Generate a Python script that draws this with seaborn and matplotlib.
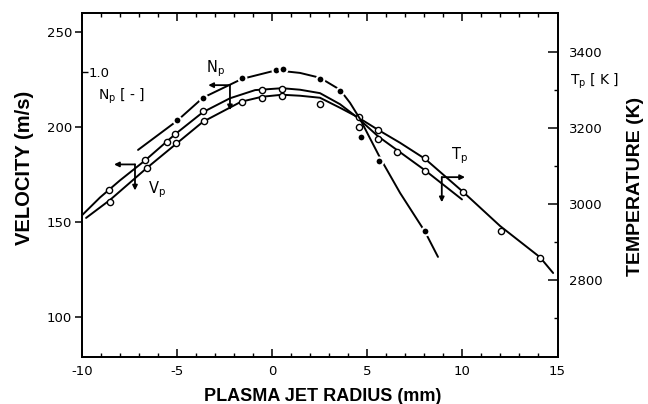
import matplotlib
matplotlib.use("Agg")
import matplotlib.pyplot as plt
import seaborn as sns
from matplotlib.ticker import MultipleLocator, FixedLocator

# ---- particle velocity V_p (m/s): measured points and fitted curve ----
vp_r = [-8.59, -6.65, -5.53, -5.10, -3.61, -0.54, 0.50, 4.59, 5.59, 6.55, 8.06]
vp_v = [167.0, 182.8, 192.1, 196.5, 208.5, 219.6, 220.0, 200.0, 193.9, 186.7, 176.9]
vp_fit_r = [-10.0, -9.04, -7.99, -6.67, -5.10, -3.63, -2.21, -0.89, 0.53, 1.47,
            2.52, 3.57, 4.47, 5.57, 6.73, 8.04, 9.98]
vp_fit_v = [153.4, 162.9, 171.9, 182.4, 196.1, 207.8, 215.1, 219.4, 220.4, 219.6,
            217.8, 212.0, 205.1, 195.1, 186.7, 177.2, 161.9]

# ---- particle temperature T_p (K): measured points and fitted curve ----
tp_r = [-8.50, -6.57, -5.04, -3.57, -1.60, -0.54, 0.50, 2.52, 4.59, 5.59, 8.04,
        10.05, 12.02, 14.08]
tp_t = [3006.6, 3094.8, 3160.8, 3217.8, 3268.5, 3279.6, 3283.8, 3263.2, 3228.4,
        3195.9, 3121.2, 3033.0, 2930.1, 2857.2]
tp_fit_r = [-9.77, -8.51, -6.57, -5.10, -3.63, -1.63, -0.53, 0.53, 1.47, 2.52,
            3.57, 4.47, 5.57, 6.73, 8.04, 10.04, 11.98, 14.08, 14.77]
tp_fit_t = [2963.6, 3011.1, 3095.6, 3156.3, 3217.0, 3269.8, 3283.0, 3288.3, 3285.7,
            3280.4, 3254.0, 3230.2, 3195.9, 3161.6, 3119.4, 3032.2, 2942.5, 2860.0,
            2818.4]

# ---- normalised particle number N_p (-): measured points and fitted curve ----
np_r = [-5.01, -3.64, -1.58, 0.21, 0.56, 2.51, 3.57, 4.68, 5.62, 8.04]
np_n = [0.830, 0.909, 0.977, 1.006, 1.010, 0.975, 0.933, 0.773, 0.688, 0.440]
np_fit_r = [-7.04, -4.99, -3.63, -1.58, 0.21, 1.47, 2.52, 3.57, 4.10, 4.62,
            5.68, 6.73, 8.04, 8.72]
np_fit_n = [0.726, 0.828, 0.909, 0.975, 1.005, 0.996, 0.979, 0.937, 0.891, 0.835,
            0.698, 0.575, 0.439, 0.351]

x_major = [-10, -5, 0, 5, 10, 15]
v_ticks = [100, 150, 200, 250]
t_major = [2800, 3000, 3200, 3400]
t_minor = [2700, 2900, 3100, 3300]

sns.set_style("ticks")
plt.rcParams.update({
    "font.family": ["DejaVu Sans"],
    "axes.unicode_minus": False,
    "axes.linewidth": 1.3,
    "axes.edgecolor": "black",
    "axes.labelcolor": "black",
    "text.color": "black",
    "xtick.color": "black",
    "ytick.color": "black",
})

BOLD = dict(family=["Liberation Sans", "DejaVu Sans"], fontweight="bold")

fig = plt.figure(figsize=(6.48, 4.04), dpi=100)
ax = fig.add_axes([81.7 / 648, 1 - 357 / 404, 475.8 / 648, 343.7 / 404])
ax_t = ax.twinx()
ax_n = ax.twinx()

line_kw = dict(color="black", linewidth=1.4, sort=False, estimator=None)
open_kw = dict(marker="o", s=20, facecolor="white", edgecolor="black",
               linewidth=1.0, zorder=4)

# velocity (left axis)
sns.lineplot(x=vp_fit_r, y=vp_fit_v, ax=ax, **line_kw)
sns.scatterplot(x=vp_r, y=vp_v, ax=ax, **open_kw)

# temperature (right axis)
sns.lineplot(x=tp_fit_r, y=tp_fit_t, ax=ax_t, **line_kw)
sns.scatterplot(x=tp_r, y=tp_t, ax=ax_t, **open_kw)

# particle number (inner scale); white rims break the line at each dot
sns.lineplot(x=np_fit_r, y=np_fit_n, ax=ax_n, **line_kw)
sns.scatterplot(x=np_r, y=np_n, ax=ax_n, marker="o", s=32, color="black",
                edgecolor="white", linewidth=1.5, zorder=4)

# ---- axes limits and ticks ----
ax.set_xlim(-10, 15)
ax.set_ylim(79.0, 259.8)
ax_t.set_ylim(2597, 3503)
ax_n.set_ylim(0, 1.205)

ax.xaxis.set_major_locator(FixedLocator(x_major))
ax.xaxis.set_minor_locator(MultipleLocator(1))
ax.set_yticks(v_ticks)
ax.yaxis.set_minor_locator(FixedLocator([]))
ax.tick_params(axis="x", which="major", direction="in", length=6, width=1.1,
               top=True, bottom=True, pad=6, labelsize=9.5)
ax.tick_params(axis="x", which="minor", direction="in", length=2.8, width=1.0,
               top=True, bottom=True)
ax.tick_params(axis="y", which="major", direction="out", length=5, width=1.1,
               left=True, right=False, pad=2, labelsize=9.5)

ax_t.set_yticks(t_major)
ax_t.yaxis.set_minor_locator(FixedLocator(t_minor))
ax_t.tick_params(axis="y", which="major", direction="in", length=7.5, width=1.1,
                 pad=8, labelsize=9.5)
ax_t.tick_params(axis="y", which="minor", direction="in", length=3, width=1.0)

ax_n.yaxis.tick_left()
ax_n.set_yticks([1.0])
ax_n.set_yticklabels(["1.0"])
ax_n.tick_params(axis="y", which="major", direction="in", length=4.5, width=1.0,
                 pad=-5, labelsize=9.5)
for tk in ax_n.yaxis.get_major_ticks():
    tk.label1.set_horizontalalignment("left")
for sp in ax_n.spines.values():
    sp.set_visible(False)
for sp in ax_t.spines.values():
    sp.set_linewidth(1.3)

for a in (ax, ax_t, ax_n):
    a.set_xlabel("")
    a.set_ylabel("")

# ---- axis titles ----
ax.set_xlabel("PLASMA JET RADIUS (mm)", fontsize=13, **BOLD)
ax.xaxis.set_label_coords(0.506, -0.128)
ax.xaxis.label.set_verticalalignment("baseline")
ax.set_ylabel("VELOCITY (m/s)", fontsize=14.5, **BOLD)
ax.yaxis.set_label_coords(-0.100, 0.551)
ax_t.set_ylabel("TEMPERATURE (K)", fontsize=14, **BOLD)
ax_t.yaxis.set_label_coords(1.146, 0.495)

# ---- curve identifiers with axis-pointing arrows ----
arrow = dict(arrowstyle="-|>", color="black", lw=1.3, mutation_scale=7,
             shrinkA=0, shrinkB=0)
# V_p -> left axis
ax.annotate("", xy=(-8.30, 180.3), xytext=(-7.20, 180.3), arrowprops=arrow)
ax.annotate("", xy=(-7.20, 166.6), xytext=(-7.20, 180.3), arrowprops=arrow)
ax.text(-6.04, 167.1, r"V$_\mathregular{p}$", fontsize=10.5, ha="center", va="center")
# N_p -> inner scale
ax.annotate("", xy=(-3.35, 222.0), xytext=(-2.21, 222.0), arrowprops=arrow)
ax.annotate("", xy=(-2.21, 208.8), xytext=(-2.21, 222.0), arrowprops=arrow)
ax.text(-2.97, 230.4, r"N$_\mathregular{p}$", fontsize=10.5, ha="center", va="center")
# T_p -> right axis
ax.annotate("", xy=(10.14, 173.6), xytext=(8.92, 173.6), arrowprops=arrow)
ax.annotate("", xy=(8.92, 160.4), xytext=(8.92, 173.6), arrowprops=arrow)
ax.text(9.83, 184.8, r"T$_\mathregular{p}$", fontsize=10.5, ha="center", va="center")

# scale names
ax.text(-7.90, 215.9, r"N$_\mathregular{p}$ [ - ]", fontsize=10, ha="center", va="center")
ax.text(1.079, 0.803, r"T$_\mathregular{p}$ [ K ]", fontsize=10, ha="center",
        va="center", transform=ax.transAxes)

fig.savefig("out.png", dpi=100)
